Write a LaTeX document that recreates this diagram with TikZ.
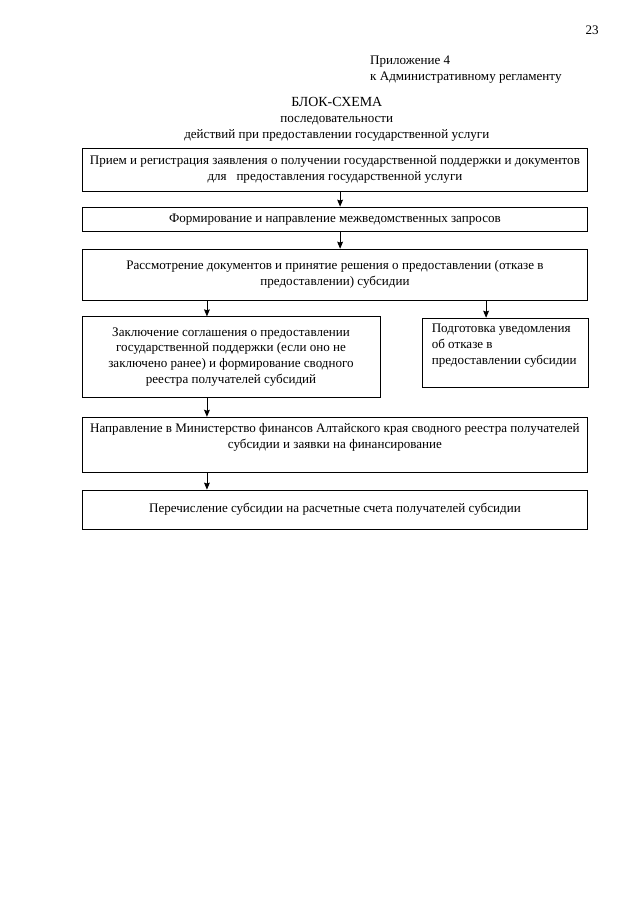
\documentclass[tikz,border=0pt]{standalone}
\usepackage{fontspec}
\setmainfont{Liberation Serif}
\usetikzlibrary{positioning,arrows.meta,calc}

\begin{document}
\begin{tikzpicture}[
  x=1mm, y=-1mm,
  blk/.style={draw=black, line width=0.8pt, minimum width=166mm, align=center,
              font=\fontsize{12.2}{14.8}\selectfont, inner sep=0.8mm},
  txt/.style={font=\fontsize{12.2}{14.8}\selectfont, inner sep=0pt},
  flow/.style={-{Stealth[length=2.3mm, width=1.9mm, inset=0.3mm]}, line width=0.8pt},
]
\useasboundingbox (0,0) rectangle (210,296.95);

% ---- page header ----
\node[txt] (pnum) at (194.3,9.8) {23};
\node[txt, anchor=west, align=left] (appx) at (121.4,22.9)
  {Приложение 4\\к Административному регламенту};
\node[txt, align=center] (title) at (110.5,39.1)
  {{\fontsize{13}{14.8}\selectfont БЛОК-СХЕМА}\\последовательности\\
   действий при предоставлении государственной услуги};

% ---- main chain of steps ----
\node[blk, minimum height=14.1mm] (recv) at (109.9,55.6)
  {Прием и регистрация заявления о получении государственной поддержки и документов\\
   для\ \ \ предоставления государственной услуги};
\node[blk, minimum height=7.9mm] (reqs) at (109.9,71.9)
  {Формирование и направление межведомственных запросов};
\node[blk, minimum height=16.7mm] (exam) at (109.9,90.1)
  {Рассмотрение документов и принятие решения о предоставлении (отказе в\\
   предоставлении) субсидии};

% ---- decision branches ----
\node[blk, minimum width=97.8mm, minimum height=26.3mm] (agree) at (75.8,117.1)
  {Заключение соглашения о предоставлении\\государственной поддержки (если оно не\\
   заключено ранее) и формирование сводного\\реестра получателей субсидий};
\node[blk, minimum width=54.5mm, minimum height=22.6mm] (deny) at (165.7,115.7) {};
\node[txt, anchor=north west, align=left] (denytx) at ($(deny.north west)+(3.3,2)$)
  {Подготовка уведомления\\об отказе в\\предоставлении субсидии};

% ---- after agreement ----
\node[blk, minimum height=18mm] (send) at (109.9,145.9) {};
\node[txt, anchor=north, align=center] (sendtx) at ($(send.north)+(0,2.1)$)
  {Направление в Министерство финансов Алтайского края сводного реестра получателей\\
   субсидии и заявки на финансирование};
\node[blk, minimum height=12.8mm] (pay) at (109.9,167.2)
  {Перечисление субсидии на расчетные счета получателей субсидии};

% ---- arrows ----
\coordinate (xa) at ($(reqs.north)+(1.7,0)$);
\draw[flow] (recv.south -| xa) -- (xa);
\draw[flow] (reqs.south -| xa) -- (exam.north -| xa);
\coordinate (xb) at ($(agree.north)+(-7.9,0)$);
\draw[flow] (exam.south -| xb) -- (xb);
\coordinate (xc) at ($(deny.north)+(-6.2,0)$);
\draw[flow] (exam.south -| xc) -- (xc);
\draw[flow] (agree.south -| xb) -- (send.north -| xb);
\draw[flow] (send.south -| xb) -- (pay.north -| xb);

\end{tikzpicture}
\end{document}
